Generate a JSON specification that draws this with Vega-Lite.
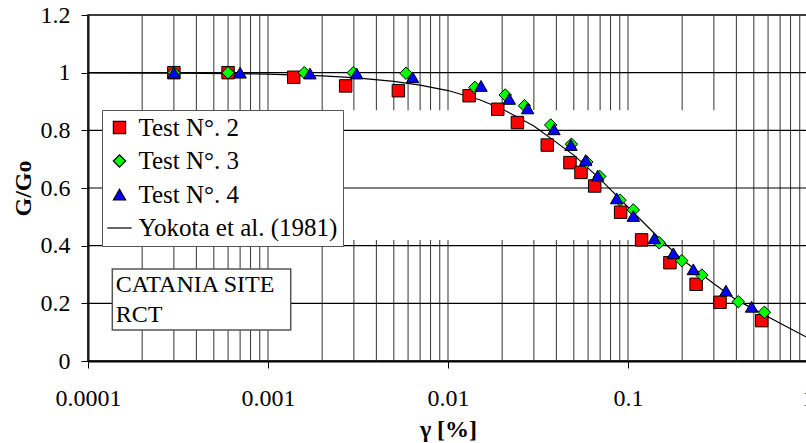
{
  "$schema": "https://vega.github.io/schema/vega-lite/v6.json",
  "width": 720,
  "height": 346,
  "autosize": {"type": "none"},
  "padding": {"left": 88, "top": 15, "right": 0, "bottom": 82},
  "background": "white",
  "config": {
    "view": {"stroke": "black", "strokeWidth": 1.5},
    "axis": {
      "grid": false,
      "labelFont": "Liberation Serif",
      "labelFontSize": 24,
      "labelColor": "black",
      "titleFont": "Liberation Serif",
      "titleFontSize": 24,
      "titleFontWeight": "bold",
      "titleColor": "black",
      "tickColor": "black",
      "tickSize": 7,
      "tickWidth": 1,
      "domainColor": "black",
      "domainWidth": 2
    },
    "axisX": {"labelPadding": 18, "titlePadding": 7, "labelFlush": false, "labelOverlap": false},
    "axisY": {"labelPadding": 11, "titlePadding": 5},
    "legend": {
      "orient": "none", "legendX": 14, "legendY": 95, "fillColor": "white", "strokeColor": "#555555",
      "padding": 5, "rowPadding": 7.5, "symbolOffset": 0, "labelOffset": 6.5, "labelFont": "Liberation Serif", "labelFontSize": 25,
      "labelColor": "black", "labelLimit": 400, "symbolSize": 150, "symbolStrokeWidth": 1.2
    }
  },
  "datasets": {
    "vgrid": [
      {"x": 0.0001}, {"x": 0.0002}, {"x": 0.0003}, {"x": 0.0004}, {"x": 0.0005}, {"x": 0.0006}, {"x": 0.0007}, {"x": 0.0008}, {"x": 0.0009},
      {"x": 0.001}, {"x": 0.002}, {"x": 0.003}, {"x": 0.004}, {"x": 0.005}, {"x": 0.006}, {"x": 0.007}, {"x": 0.008}, {"x": 0.009},
      {"x": 0.01}, {"x": 0.02}, {"x": 0.03}, {"x": 0.04}, {"x": 0.05}, {"x": 0.06}, {"x": 0.07}, {"x": 0.08}, {"x": 0.09},
      {"x": 0.1}, {"x": 0.2}, {"x": 0.3}, {"x": 0.4}, {"x": 0.5}, {"x": 0.6}, {"x": 0.7}, {"x": 0.8}, {"x": 0.9}, {"x": 1}
    ],
    "hgrid": [{"y": 0.2}, {"y": 0.4}, {"y": 0.6}, {"y": 0.8}, {"y": 1.0}],
    "curve": [
      {"x": 0.0001, "y": 0.9996}, {"x": 0.0003, "y": 0.9987}, {"x": 0.001, "y": 0.995}, {"x": 0.002, "y": 0.989},
      {"x": 0.003, "y": 0.983}, {"x": 0.005, "y": 0.970}, {"x": 0.007, "y": 0.957}, {"x": 0.01, "y": 0.938},
      {"x": 0.015, "y": 0.906}, {"x": 0.02, "y": 0.874}, {"x": 0.03, "y": 0.815}, {"x": 0.05, "y": 0.714},
      {"x": 0.07, "y": 0.631}, {"x": 0.1, "y": 0.534}, {"x": 0.15, "y": 0.424}, {"x": 0.2, "y": 0.352},
      {"x": 0.3, "y": 0.268}, {"x": 0.4, "y": 0.212}, {"x": 0.5, "y": 0.180}, {"x": 0.7, "y": 0.131}, {"x": 1.0, "y": 0.080}
    ],
    "tests": [
      {"series": "Test N°. 2", "x": 0.0003, "y": 1.0},
      {"series": "Test N°. 2", "x": 0.0006, "y": 1.0},
      {"series": "Test N°. 2", "x": 0.00139, "y": 0.984},
      {"series": "Test N°. 2", "x": 0.0027, "y": 0.954},
      {"series": "Test N°. 2", "x": 0.0053, "y": 0.9375},
      {"series": "Test N°. 2", "x": 0.0131, "y": 0.92},
      {"series": "Test N°. 2", "x": 0.0189, "y": 0.873},
      {"series": "Test N°. 2", "x": 0.0243, "y": 0.827},
      {"series": "Test N°. 2", "x": 0.0356, "y": 0.749},
      {"series": "Test N°. 2", "x": 0.0476, "y": 0.688},
      {"series": "Test N°. 2", "x": 0.0548, "y": 0.654},
      {"series": "Test N°. 2", "x": 0.0653, "y": 0.607},
      {"series": "Test N°. 2", "x": 0.091, "y": 0.516},
      {"series": "Test N°. 2", "x": 0.119, "y": 0.42},
      {"series": "Test N°. 2", "x": 0.171, "y": 0.341},
      {"series": "Test N°. 2", "x": 0.239, "y": 0.266},
      {"series": "Test N°. 2", "x": 0.3245, "y": 0.2035},
      {"series": "Test N°. 2", "x": 0.553, "y": 0.14},
      {"series": "Test N°. 3", "x": 0.0003, "y": 1.0},
      {"series": "Test N°. 3", "x": 0.0006, "y": 1.0},
      {"series": "Test N°. 3", "x": 0.00159, "y": 1.0},
      {"series": "Test N°. 3", "x": 0.00298, "y": 1.0},
      {"series": "Test N°. 3", "x": 0.00584, "y": 0.998},
      {"series": "Test N°. 3", "x": 0.0141, "y": 0.949},
      {"series": "Test N°. 3", "x": 0.0208, "y": 0.9225},
      {"series": "Test N°. 3", "x": 0.0266, "y": 0.8855},
      {"series": "Test N°. 3", "x": 0.0372, "y": 0.8185},
      {"series": "Test N°. 3", "x": 0.0485, "y": 0.752},
      {"series": "Test N°. 3", "x": 0.059, "y": 0.69},
      {"series": "Test N°. 3", "x": 0.0697, "y": 0.64},
      {"series": "Test N°. 3", "x": 0.0903, "y": 0.558},
      {"series": "Test N°. 3", "x": 0.107, "y": 0.524},
      {"series": "Test N°. 3", "x": 0.149, "y": 0.41},
      {"series": "Test N°. 3", "x": 0.199, "y": 0.348},
      {"series": "Test N°. 3", "x": 0.257, "y": 0.298},
      {"series": "Test N°. 3", "x": 0.41, "y": 0.2057},
      {"series": "Test N°. 3", "x": 0.572, "y": 0.169},
      {"series": "Test N°. 4", "x": 0.0003, "y": 1.0},
      {"series": "Test N°. 4", "x": 0.0007, "y": 1.0},
      {"series": "Test N°. 4", "x": 0.00171, "y": 0.997},
      {"series": "Test N°. 4", "x": 0.00311, "y": 0.997},
      {"series": "Test N°. 4", "x": 0.00636, "y": 0.984},
      {"series": "Test N°. 4", "x": 0.01525, "y": 0.954},
      {"series": "Test N°. 4", "x": 0.0219, "y": 0.909},
      {"series": "Test N°. 4", "x": 0.0277, "y": 0.876},
      {"series": "Test N°. 4", "x": 0.0388, "y": 0.8035},
      {"series": "Test N°. 4", "x": 0.0482, "y": 0.749},
      {"series": "Test N°. 4", "x": 0.0582, "y": 0.697},
      {"series": "Test N°. 4", "x": 0.0679, "y": 0.643},
      {"series": "Test N°. 4", "x": 0.0865, "y": 0.564},
      {"series": "Test N°. 4", "x": 0.107, "y": 0.503},
      {"series": "Test N°. 4", "x": 0.14, "y": 0.4255},
      {"series": "Test N°. 4", "x": 0.1786, "y": 0.3735},
      {"series": "Test N°. 4", "x": 0.2306, "y": 0.318},
      {"series": "Test N°. 4", "x": 0.35, "y": 0.244},
      {"series": "Test N°. 4", "x": 0.486, "y": 0.188}
    ]
  },
  "layer": [
    {
      "data": {"name": "vgrid"},
      "mark": {"type": "rule", "color": "#333333", "strokeWidth": 1},
      "encoding": {
        "x": {"field": "x", "type": "quantitative", "scale": {"type": "log", "domain": [0.0001, 1], "nice": false},
              "axis": {"values": [0.0001, 0.001, 0.01, 0.1, 1], "format": "~g", "title": "γ [%]"}}
      }
    },
    {
      "data": {"values": [{}]},
      "mark": {"type": "rect", "fill": "white", "strokeWidth": 0},
      "encoding": {
        "x": {"datum": 0.000119, "type": "quantitative"},
        "x2": {"datum": 0.342},
        "y": {"datum": 0.42, "type": "quantitative"},
        "y2": {"datum": 0.87}
      }
    },
    {
      "data": {"name": "hgrid"},
      "mark": {"type": "rule", "color": "black", "strokeWidth": 1.2},
      "encoding": {
        "y": {"field": "y", "type": "quantitative", "scale": {"domain": [0, 1.2], "nice": false},
              "axis": {"values": [0, 0.2, 0.4, 0.6, 0.8, 1, 1.2], "format": "~g", "title": "G/Go"}}
      }
    },
    {
      "data": {"values": [{}]},
      "mark": {"type": "rect", "fill": "white", "stroke": "#555555", "strokeWidth": 1.5},
      "encoding": {
        "x": {"datum": 0.0001365, "type": "quantitative"},
        "x2": {"datum": 0.001337},
        "y": {"datum": 0.1075, "type": "quantitative"},
        "y2": {"datum": 0.319}
      }
    },
    {
      "data": {"values": [{}]},
      "mark": {"type": "text", "text": "CATANIA SITE", "align": "left", "baseline": "middle", "font": "Liberation Serif", "fontSize": 24, "color": "black"},
      "encoding": {
        "x": {"datum": 0.0001425, "type": "quantitative"},
        "y": {"datum": 0.2636, "type": "quantitative"}
      }
    },
    {
      "data": {"values": [{}]},
      "mark": {"type": "text", "text": "RCT", "align": "left", "baseline": "middle", "font": "Liberation Serif", "fontSize": 24, "color": "black"},
      "encoding": {
        "x": {"datum": 0.0001425, "type": "quantitative"},
        "y": {"datum": 0.1595, "type": "quantitative"}
      }
    },
    {
      "data": {"name": "curve"},
      "mark": {"type": "line", "color": "black", "strokeWidth": 1.2, "clip": true},
      "encoding": {
        "x": {"field": "x", "type": "quantitative"},
        "y": {"field": "y", "type": "quantitative"}
      }
    },
    {
      "data": {"name": "tests"},
      "mark": {"type": "point", "filled": true, "strokeWidth": 1, "size": 155, "opacity": 1},
      "encoding": {
        "x": {"field": "x", "type": "quantitative"},
        "y": {"field": "y", "type": "quantitative"},
        "shape": {
          "field": "series", "type": "nominal", "title": null,
          "scale": {"domain": ["Test N°. 2", "Test N°. 3", "Test N°. 4", "Yokota et al. (1981)"], "range": ["square", "diamond", "triangle-up", "M-2,0H2"]}
        },
        "fill": {
          "field": "series", "type": "nominal", "title": null,
          "scale": {"domain": ["Test N°. 2", "Test N°. 3", "Test N°. 4", "Yokota et al. (1981)"], "range": ["#ff0000", "#00ff00", "#0000ff", "#000000"]}
        },
        "stroke": {
          "field": "series", "type": "nominal", "title": null,
          "scale": {"domain": ["Test N°. 2", "Test N°. 3", "Test N°. 4", "Yokota et al. (1981)"], "range": ["#000000", "#000000", "#000000", "#000000"]}
        }
      }
    }
  ]
}
